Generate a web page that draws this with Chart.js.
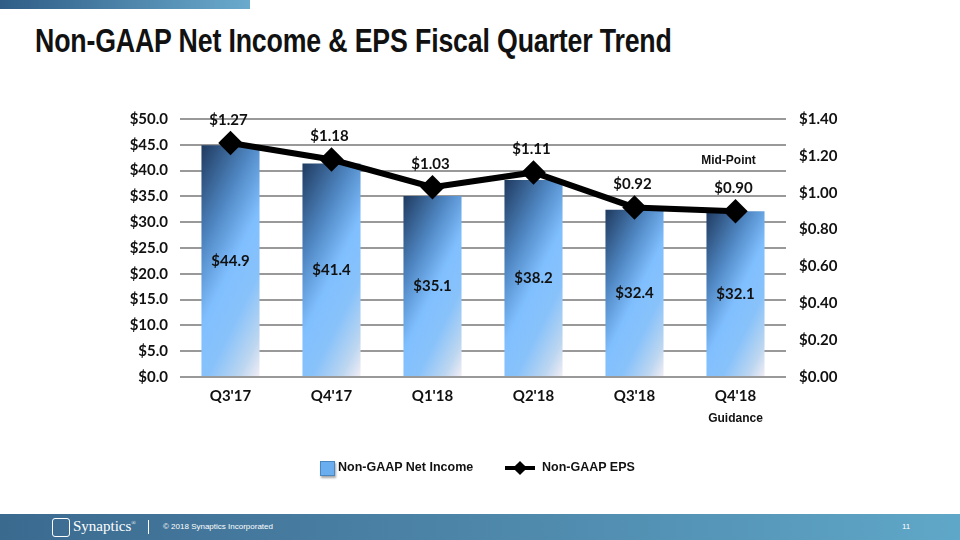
<!DOCTYPE html>
<html>
<head>
<meta charset="utf-8">
<script src="https://cdn.jsdelivr.net/npm/chart.js@4"></script>
<style>
  html, body { margin: 0; padding: 0; background: #fff; }
  #page { position: relative; width: 960px; height: 540px; overflow: hidden; font-family: "Liberation Sans", Arial, sans-serif; }
  #topbar { position: absolute; left: 0; top: 0; width: 250px; height: 9px; background: linear-gradient(90deg, #2f5d86, #6aaacd); }
  #title { position: absolute; left: 35px; top: 22px; font-family: "Liberation Sans", Arial, sans-serif; font-weight: bold; font-size: 33px; color: #111; white-space: nowrap; transform: scaleX(0.81); transform-origin: left top; letter-spacing: -0.2px; }
  #chartbox { position: absolute; left: 0; top: 0; width: 960px; height: 540px; }
  .leg { position: absolute; top: 460px; font-weight: bold; font-size: 12.5px; color: #111; white-space: nowrap; }
  .sq { position: absolute; left: 320px; top: 461px; width: 13px; height: 13px; background: #6aaef0; border: 1px solid #4a86c0; box-shadow: 1px 2px 2px rgba(0,0,0,0.35); }
  .ln { position: absolute; left: 505px; top: 466px; width: 30px; height: 4px; background: #000; }
  .dm { position: absolute; left: 515px; top: 463px; width: 10px; height: 10px; background: #000; transform: rotate(45deg); }
  #footer { position: absolute; left: 0; top: 514px; width: 960px; height: 26px; background: linear-gradient(90deg, #3b6a8f, #4d86a9 50%, #5fa7c8); color: #fff; }
  #logo { position: absolute; left: 52px; top: 4px; width: 16px; height: 17px; border: 1px solid #fff; border-radius: 3px; }
  #brand { position: absolute; left: 73px; top: 4px; font-family: "Liberation Serif", serif; font-size: 15px; }
  #sep { position: absolute; left: 148px; top: 6px; width: 1px; height: 14px; background: #fff; }
  #copy { position: absolute; left: 163px; top: 8px; font-size: 8px; }
  #pnum { position: absolute; left: 902px; top: 8px; font-size: 8px; }
</style>
</head>
<body>
<div id="page">
  <div id="topbar"></div>
  <div id="title">Non-GAAP Net Income &amp; EPS Fiscal Quarter Trend</div>
  <div id="chartbox"><canvas id="chart"></canvas></div>
  <div class="sq"></div>
  <div class="leg" style="left:338px">Non-GAAP Net Income</div>
  <div class="ln"></div><div class="dm"></div>
  <div class="leg" style="left:542px">Non-GAAP EPS</div>
  <div id="footer">
    <div id="logo"></div>
    <div id="brand">Synaptics<sup style="font-size:6px">®</sup></div>
    <div id="sep"></div>
    <div id="copy">© 2018 Synaptics Incorporated</div>
    <div id="pnum">11</div>
  </div>
</div>
<script>
// fiscal quarters, Q4'18 is guidance
var quarters = ["Q3'17", "Q4'17", "Q1'18", "Q2'18", "Q3'18", "Q4'18"];
var netIncome = [44.9, 41.4, 35.1, 38.2, 32.4, 32.1];   // $M
var eps = [1.27, 1.18, 1.03, 1.11, 0.92, 0.90];
var incomeTicks = [0, 5, 10, 15, 20, 25, 30, 35, 40, 45, 50];
var epsTicks = [0, 0.2, 0.4, 0.6, 0.8, 1.0, 1.2, 1.4];

var labelFont = 'bold 15px Lato, "Open Sans", sans-serif';

// diagonal shading, dark at top-left, pale at bottom-right
function barGradient(ctx) {
    var chart = ctx.chart;
    if (!chart.chartArea || ctx.dataIndex === undefined) return '#6aaef0';
    var x = chart.scales.x.getPixelForValue(ctx.dataIndex);
    var top = chart.scales.y.getPixelForValue(netIncome[ctx.dataIndex]);
    var bottom = chart.scales.y.getPixelForValue(0);
    var w = 58, h = bottom - top;
    var left = x - w / 2;
    var len = (2 * w + h) / 5;   // projection on direction (2,1), scaled
    var g = chart.ctx.createLinearGradient(left, top, left + 2 * len, top + len);
    g.addColorStop(0, '#1f3a5f');
    g.addColorStop(0.3, '#5088c4');
    g.addColorStop(0.52, '#80bfff');
    g.addColorStop(0.7, '#88c2fa');
    g.addColorStop(0.88, '#bcd6f0');
    g.addColorStop(1, '#f2eef5');
    return g;
}

var labelPlugin = {
    id: 'labels',
    afterDatasetsDraw: function (chart) {
        var c = chart.ctx;
        var xs = chart.scales.x, ys = chart.scales.y, y1 = chart.scales.y1;
        c.save();
        c.textAlign = 'center';
        c.textBaseline = 'middle';
        c.fillStyle = '#111';
        c.font = labelFont;
        netIncome.forEach(function (v, i) {
            var px = xs.getPixelForValue(i);
            var mid = (ys.getPixelForValue(v) + ys.getPixelForValue(0)) / 2;
            c.fillText('$' + v.toFixed(1), px, mid);
        });
        eps.forEach(function (v, i) {
            var px = xs.getPixelForValue(i) - 2;
            var py = y1.getPixelForValue(v) - 23;
            c.fillText('$' + v.toFixed(2), px, py);
        });
        var last = quarters.length - 1;
        c.font = 'bold 12px "Liberation Sans", Arial, sans-serif';
        c.fillText('Mid-Point', xs.getPixelForValue(last) - 7, y1.getPixelForValue(eps[last]) - 50);
        c.fillText('Guidance', xs.getPixelForValue(last), ys.bottom + 42);
        c.restore();
    }
};

new Chart(document.getElementById('chart').getContext('2d'), {
    type: 'bar',
    data: {
        labels: quarters,
        datasets: [{
            type: 'line',
            label: 'Non-GAAP EPS',
            data: eps,
            yAxisID: 'y1',
            borderColor: '#000',
            backgroundColor: '#000',
            borderWidth: 6,
            pointStyle: 'rectRot',
            pointRadius: 8,
            pointHoverRadius: 8,
            tension: 0,
            order: 0
        }, {
            label: 'Non-GAAP Net Income',
            data: netIncome,
            yAxisID: 'y',
            backgroundColor: barGradient,
            categoryPercentage: 1,
            barPercentage: 0.575,
            order: 1
        }]
    },
    options: {
        responsive: true,
        maintainAspectRatio: false,
        animation: false,
        layout: { padding: { left: 0, right: 0, top: 119, bottom: 123 } },
        plugins: { legend: { display: false }, tooltip: { enabled: false } },
        scales: {
            x: {
                grid: { display: false },
                border: { display: false },
                ticks: { color: '#111', font: { family: 'Lato', weight: 'bold', size: 15 }, padding: 2 },
                afterFit: function (s) { s.height = 40; }
            },
            y: {
                position: 'left',
                min: 0, max: 50,
                afterBuildTicks: function (s) { s.ticks = incomeTicks.map(function (v) { return { value: v }; }); },
                grid: { color: '#999', lineWidth: 2, drawTicks: false },
                border: { display: false },
                ticks: {
                    color: '#111', padding: 12,
                    font: { family: 'Lato', weight: 'bold', size: 15 },
                    callback: function (v) { return '$' + Number(v).toFixed(1); }
                },
                afterFit: function (s) { s.width = 180; }
            },
            y1: {
                position: 'right',
                min: 0, max: 1.4,
                afterBuildTicks: function (s) { s.ticks = epsTicks.map(function (v) { return { value: v }; }); },
                grid: { display: false, drawTicks: false },
                border: { display: false },
                ticks: {
                    color: '#111', padding: 13,
                    font: { family: 'Lato', weight: 'bold', size: 15 },
                    callback: function (v) { return '$' + Number(v).toFixed(2); }
                },
                afterFit: function (s) { s.width = 174; }
            }
        }
    },
    plugins: [labelPlugin]
});
</script>
</body>
</html>
